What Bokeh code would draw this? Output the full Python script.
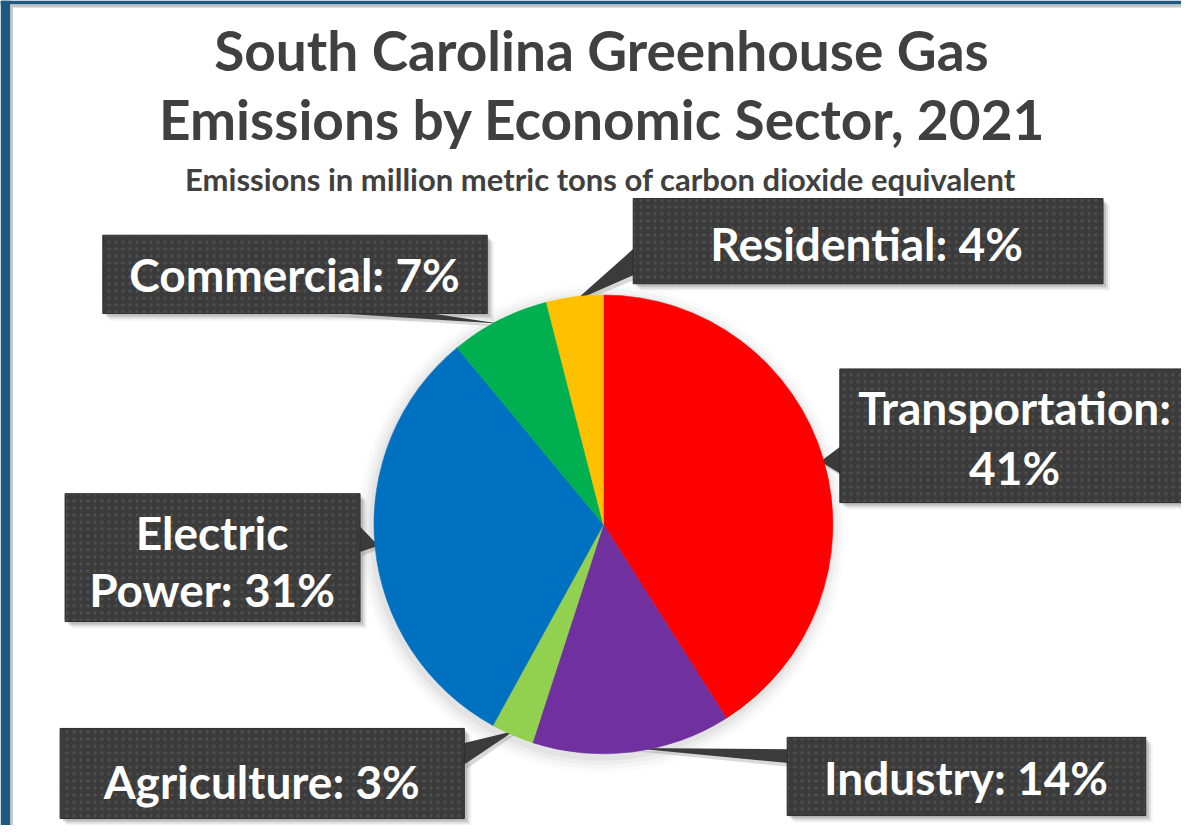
import numpy as np
from bokeh.plotting import figure
from bokeh.models import Range1d
from bokeh.core.properties import value
from bokeh.embed import file_html
from bokeh.resources import INLINE

# ---------------- data ----------------
sectors = ["Transportation", "Industry", "Agriculture", "Electric Power", "Commercial", "Residential"]
shares = [41, 14, 3, 31, 7, 4]
colors = ["#FF0000", "#7030A0", "#92D050", "#0070C0", "#00B050", "#FFC000"]
label_lines = [["Transportation:", "{}%"], ["Industry: {}%"], ["Agriculture: {}%"],
               ["Electric", "Power: {}%"], ["Commercial: {}%"], ["Residential: {}%"]]
title_lines = ["South Carolina Greenhouse Gas", "Emissions by Economic Sector, 2021"]
subtitle = "Emissions in million metric tons of carbon dioxide equivalent"

# ---------------- layout (reference pixel coords, y measured from top) ----------------
W, H = 1181, 825
REF_W, REF_H = 1189, 833


def Y(py):
    return REF_H - py


FONT = "Lato"
cx, cy, R = 607, Y(529), 231

# box: left, right, top, bottom, text center x, text line center y's, callout base (two points)
boxes = {
    "Transportation": dict(l=845, r=1200, t=372, b=507, tx=1021, ty=[411, 472],
                           base=[(846, 450), (846, 478)]),
    "Industry": dict(l=792, r=1153, t=744, b=823, tx=972, ty=[785],
                     base=[(793, 756), (793, 770)]),
    "Agriculture": dict(l=60, r=467, t=735, b=826, tx=263, ty=[789],
                        base=[(466, 750), (466, 772)]),
    "Electric Power": dict(l=65, r=362, t=498, b=627, tx=213, ty=[537, 595],
                           base=[(361, 530), (361, 557)]),
    "Commercial": dict(l=103, r=490, t=237, b=316, tx=296, ty=[277],
                       base=[(327, 315), (427, 315)]),
    "Residential": dict(l=637, r=1110, t=200, b=286, tx=872, ty=[245],
                        base=[(638, 250), (638, 277)]),
}

p = figure(width=W, height=H, output_backend="svg", toolbar_location=None,
           x_range=Range1d(0, REF_W), y_range=Range1d(0, REF_H),
           min_border=0, background_fill_color="white", border_fill_color="white")
p.axis.visible = False
p.grid.visible = False
p.outline_line_color = None

# frame (left and top)
p.quad(left=[0], right=[10], bottom=[0], top=[REF_H], fill_color="#1d5a82", line_color=None)
p.quad(left=[0], right=[REF_W], bottom=[Y(4)], top=[REF_H], fill_color="#1d5a82", line_color=None)
p.quad(left=[10], right=[REF_W], bottom=[Y(7)], top=[Y(4)], fill_color="#c4c4c4", line_color=None)
p.quad(left=[10], right=[12.5], bottom=[0], top=[Y(4)], fill_color="#c4c4c4", line_color=None)

# titles
p.text(x=[605, 606], y=[Y(50), Y(120)], text=title_lines, text_font=value(FONT),
       text_font_style="bold", text_font_size="55px", text_color="#404040",
       text_align="center", text_baseline="middle")
p.text(x=[604], y=[Y(180)], text=[subtitle], text_font=value(FONT),
       text_font_style="bold", text_font_size="31px", text_color="#404040",
       text_align="center", text_baseline="middle")

# pie angles
tot = float(sum(shares))
cum = np.concatenate([[0], np.cumsum(shares)]) / tot
start = np.pi / 2 - 2 * np.pi * cum[:-1]
end = np.pi / 2 - 2 * np.pi * cum[1:]
mid = (start + end) / 2

# pie soft shadow
for k, a in enumerate([0.04, 0.03, 0.025, 0.015]):
    p.circle(x=[cx - 2], y=[cy - 4], radius=R + 3 + 4 * k, fill_color="#000000",
             fill_alpha=a, line_color=None)

# box shadows
for name in sectors:
    b = boxes[name]
    for off, a in [(3, 0.22), (5, 0.14), (7, 0.07)]:
        p.quad(left=[b["l"] + off], right=[b["r"] + off], top=[Y(b["t"] + off)],
               bottom=[Y(b["b"] + off)], fill_color="#555555", fill_alpha=a, line_color=None)

# callout pointers (tip from pie data)
for i, name in enumerate(sectors):
    b = boxes[name]
    tipx = cx + 0.985 * R * np.cos(mid[i])
    tipy = cy + 0.985 * R * np.sin(mid[i])
    (x1, y1), (x2, y2) = b["base"]
    p.patch(x=[x1 + 3, tipx + 2, x2 + 3], y=[Y(y1 + 4), tipy - 3, Y(y2 + 4)],
            fill_color="#666666", fill_alpha=0.25, line_color=None)
    p.patch(x=[x1, tipx, x2], y=[Y(y1), tipy, Y(y2)], fill_color="#3b3b3b", line_color=None)

# pie
p.wedge(x=cx, y=cy, radius=R, start_angle=start, end_angle=end, direction="clock",
        fill_color=colors, line_color=colors, line_width=0.6)

# boxes and labels
for i, name in enumerate(sectors):
    b = boxes[name]
    p.quad(left=[b["l"]], right=[b["r"]], top=[Y(b["t"])], bottom=[Y(b["b"])],
           fill_color="#3b3b3b", line_color="#2e2e2e", line_width=1,
           hatch_pattern="dot", hatch_color="#4d4d4d", hatch_scale=7, hatch_weight=1.5)
    lines = [s.format(shares[i]) for s in label_lines[i]]
    p.text(x=[b["tx"]] * len(lines), y=[Y(v) for v in b["ty"]], text=lines,
           text_font=value(FONT), text_font_style="bold", text_font_size="46px",
           text_color="white", text_align="center", text_baseline="middle")

open("out.html", "w").write(file_html(p, INLINE))
